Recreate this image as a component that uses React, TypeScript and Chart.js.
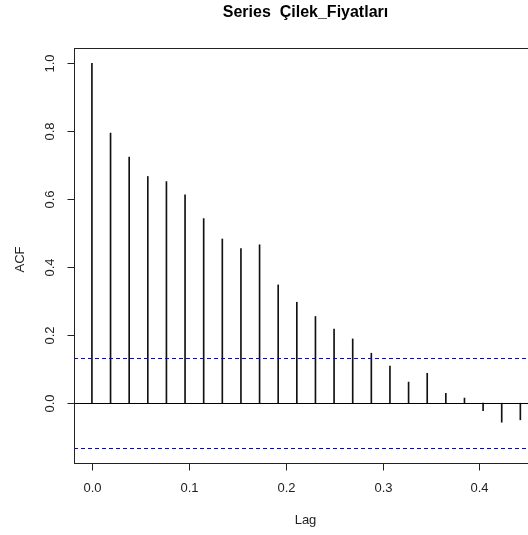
import React, { useEffect, useRef } from "react";
import { Chart, registerables } from "chart.js";

Chart.register(...registerables);

const TITLE = "Series  Çilek_Fiyatları";
const X_LABEL = "Lag";
const Y_LABEL = "ACF";

const LAGS = [
  0, 0.01923, 0.03846, 0.05769, 0.07692, 0.09615, 0.11538, 0.13462, 0.15385,
  0.17308, 0.19231, 0.21154, 0.23077, 0.25, 0.26923, 0.28846, 0.30769, 0.32692,
  0.34615, 0.36538, 0.38462, 0.40385, 0.42308, 0.44231,
];
const ACF = [
  1.0, 0.795, 0.724, 0.667, 0.652, 0.613, 0.543, 0.483, 0.455, 0.466, 0.348,
  0.297, 0.255, 0.218, 0.189, 0.147, 0.109, 0.062, 0.088, 0.029, 0.015, -0.022,
  -0.056, -0.049,
];
const CI_UPPER = 0.1315;
const CI_LOWER = -0.1315;

const X_TICKS = [0, 0.1, 0.2, 0.3, 0.4];
const X_TICK_LABELS = ["0.0", "0.1", "0.2", "0.3", "0.4"];
const Y_TICKS = [0, 0.2, 0.4, 0.6, 0.8, 1.0];
const Y_TICK_LABELS = ["0.0", "0.2", "0.4", "0.6", "0.8", "1.0"];

const X_MIN = -0.0185;
const X_MAX = 0.4595;
const Y_MIN = -0.176;
const Y_MAX = 1.045;

const FONT = '"Liberation Sans", Arial, Helvetica, sans-serif';
const CANVAS_W = 560;
const CANVAS_H = 535;

const rPlot = {
  id: "rPlot",
  afterDraw(chart: any) {
    const { ctx, chartArea, scales } = chart;
    const xs = scales.x;
    const ys = scales.y;
    const { left, right, top, bottom } = chartArea;
    ctx.save();

    // zero line
    ctx.strokeStyle = "#000";
    ctx.lineWidth = 1;
    ctx.setLineDash([]);
    const y0 = Math.round(ys.getPixelForValue(0)) + 0.5;
    ctx.beginPath();
    ctx.moveTo(left, y0);
    ctx.lineTo(right, y0);
    ctx.stroke();

    // CI lines
    ctx.strokeStyle = "#0000ff";
    ctx.setLineDash([4, 3]);
    [CI_UPPER, CI_LOWER].forEach((v) => {
      const yy = Math.round(ys.getPixelForValue(v)) + 0.5;
      ctx.beginPath();
      ctx.moveTo(left, yy);
      ctx.lineTo(right, yy);
      ctx.stroke();
    });
    ctx.setLineDash([]);

    // box
    ctx.strokeStyle = "#222";
    ctx.lineWidth = 1;
    const bl = Math.round(left) + 0.5;
    const bt = Math.round(top) + 0.5;
    const bb = Math.round(bottom) + 0.5;
    const br = Math.round(right) + 0.5;
    ctx.strokeRect(bl, bt, br - bl, bb - bt);

    // x ticks
    ctx.fillStyle = "#222";
    ctx.font = `13px ${FONT}`;
    ctx.textAlign = "center";
    ctx.textBaseline = "middle";
    X_TICKS.forEach((v, i) => {
      const px = Math.round(xs.getPixelForValue(v)) + 0.5;
      ctx.beginPath();
      ctx.moveTo(px, bb);
      ctx.lineTo(px, bb + 7);
      ctx.stroke();
      ctx.fillText(X_TICK_LABELS[i], px, bb + 25);
    });

    // y ticks
    Y_TICKS.forEach((v, i) => {
      const py = Math.round(ys.getPixelForValue(v)) + 0.5;
      ctx.beginPath();
      ctx.moveTo(bl, py);
      ctx.lineTo(bl - 7, py);
      ctx.stroke();
      ctx.save();
      ctx.translate(bl - 24, py);
      ctx.rotate(-Math.PI / 2);
      ctx.fillText(Y_TICK_LABELS[i], 0, 0);
      ctx.restore();
    });

    // axis labels
    const cx = (left + right) / 2;
    const cy = (top + bottom) / 2;
    ctx.fillText(X_LABEL, cx, bb + 57);
    ctx.save();
    ctx.translate(20, cy + 4);
    ctx.rotate(-Math.PI / 2);
    ctx.fillText(Y_LABEL, 0, 0);
    ctx.restore();

    // title
    ctx.fillStyle = "#000";
    ctx.font = `bold 16px ${FONT}`;
    ctx.fillText(TITLE, cx, 13);

    ctx.restore();
  },
};

export default function App() {
  const ref = useRef<HTMLCanvasElement | null>(null);

  useEffect(() => {
    if (!ref.current) return;
    const chart = new Chart(ref.current, {
      type: "bar",
      data: {
        datasets: [
          {
            data: LAGS.map((l, i) => ({ x: l, y: ACF[i] })),
            backgroundColor: "#111",
            borderWidth: 0,
            barThickness: 1,
          } as any,
        ],
      },
      options: {
        animation: false,
        responsive: false,
        devicePixelRatio: 1,
        layout: { padding: { left: 74, top: 48, right: CANVAS_W - 537, bottom: CANVAS_H - 463 } },
        plugins: { legend: { display: false }, tooltip: { enabled: false }, title: { display: false } },
        scales: {
          x: { type: "linear", min: X_MIN, max: X_MAX, display: false, offset: false },
          y: { type: "linear", min: Y_MIN, max: Y_MAX, display: false },
        },
      },
      plugins: [rPlot],
    });
    return () => chart.destroy();
  }, []);

  return (
    <div style={{ position: "absolute", left: 0, top: 0, width: 528, height: 535, overflow: "hidden", background: "#fff" }}>
      <canvas ref={ref} width={CANVAS_W} height={CANVAS_H} style={{ display: "block" }} />
    </div>
  );
}
